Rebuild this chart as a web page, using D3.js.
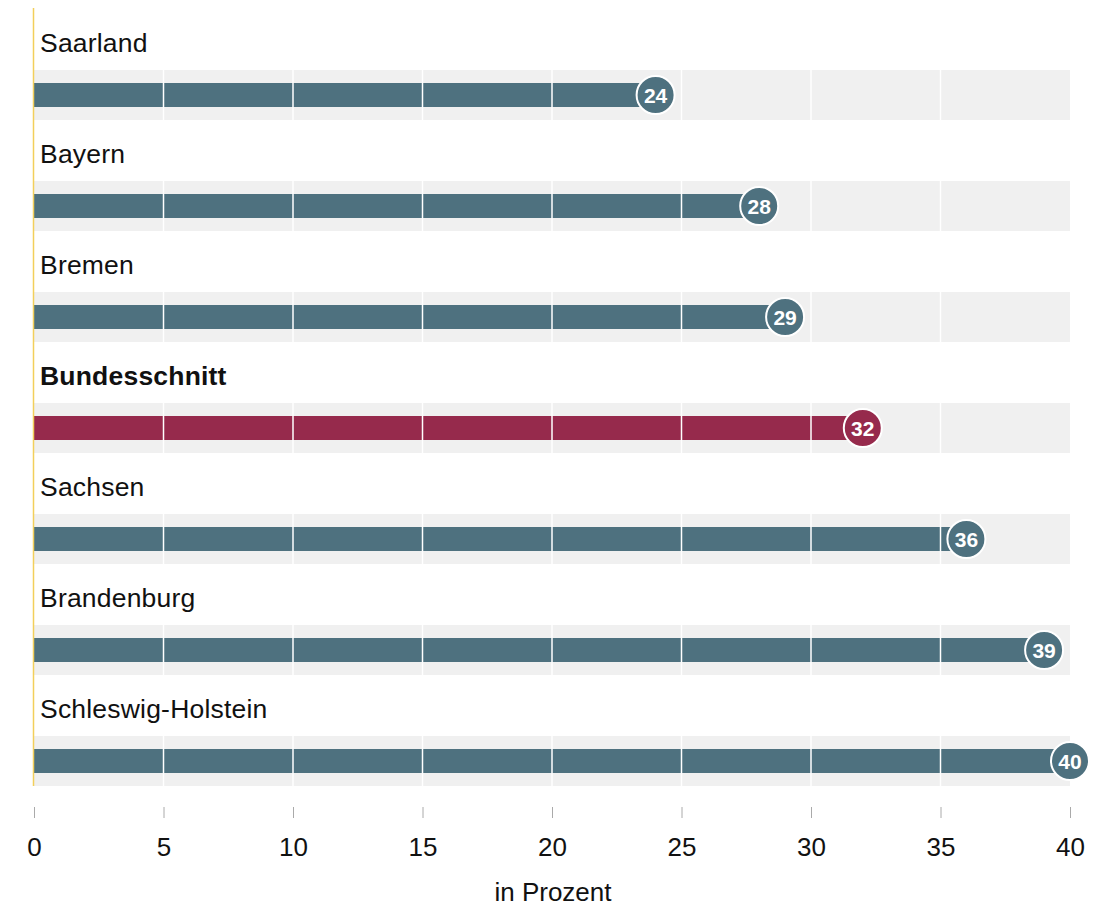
<!DOCTYPE html>
<html><head><meta charset="utf-8">
<script src="https://cdn.jsdelivr.net/npm/d3@7"></script>
<style>
body{margin:0;background:#fff;}
svg text{font-family:"Liberation Sans",Arial,Helvetica,sans-serif;}
</style></head>
<body><svg id="chart" width="1102" height="906"></svg>
<script>
const categories = ["Saarland","Bayern","Bremen","Bundesschnitt","Sachsen","Brandenburg","Schleswig-Holstein"];
const values = [24,28,29,32,36,39,40];
const highlight = ["Bundesschnitt"];
const tickValues = [0,5,10,15,20,25,30,35,40];
const axisTitle = "in Prozent";

const svg = d3.select("#chart");
const x = d3.scaleLinear().domain([0,40]).range([34,1070]);
const y = d3.scaleBand().domain(categories).range([8,785]).paddingInner(0).paddingOuter(0);
const step = y.step();
const bandH = 50, barH = 24;

const rows = svg.selectAll("g.row").data(categories).enter().append("g")
  .attr("class","row").attr("transform",d=>`translate(0,${y(d)})`);

rows.append("rect").attr("x",x(0)).attr("y",step-49).attr("width",x(40)-x(0)).attr("height",bandH).attr("fill","#f0f0f0");

rows.append("rect").attr("x",x(0)).attr("y",step-49+(bandH-barH)/2)
  .attr("width",(d,i)=>x(values[i])-x(0)).attr("height",barH)
  .attr("fill",d=>highlight.includes(d)?"#962a4c":"#4e717f");

rows.selectAll("line.grid").data(tickValues.filter(t=>t>0&&t<40)).enter().append("line")
  .attr("x1",t=>x(t)).attr("x2",t=>x(t)).attr("y1",step-49).attr("y2",step-49+bandH)
  .attr("stroke","#fff").attr("stroke-width",1.5);

rows.append("text").attr("x",40).attr("y",step-67).attr("font-size",26.5)
  .attr("textLength",null)
  .attr("font-weight",d=>highlight.includes(d)?"bold":"normal").attr("fill","#111").text(d=>d)
  .style("letter-spacing","0.2px");

rows.append("circle").attr("cx",(d,i)=>x(values[i])).attr("cy",step-49+bandH/2).attr("r",19)
  .attr("fill",d=>highlight.includes(d)?"#962a4c":"#4e717f").attr("stroke","#fff").attr("stroke-width",2);
rows.append("text").attr("x",(d,i)=>x(values[i])).attr("y",step-49+bandH/2+7.5).attr("text-anchor","middle")
  .attr("font-size",21).attr("font-weight","bold").attr("fill","#fff").text((d,i)=>values[i]);

svg.append("line").attr("x1",33.5).attr("x2",33.5).attr("y1",8).attr("y2",786).attr("stroke","#f2cf5b").attr("stroke-width",1.5);

const axis = d3.axisBottom(x).tickValues(tickValues).tickSize(11).tickPadding(20);
const ag = svg.append("g").attr("transform","translate(0,807)").call(axis);
ag.select(".domain").remove();
ag.selectAll(".tick line").attr("stroke","#aaa");
ag.selectAll(".tick text").attr("font-size",26).attr("fill","#111").attr("font-family","'Liberation Sans',Arial,sans-serif");

svg.append("text").attr("x",553).attr("y",901).attr("text-anchor","middle").attr("font-size",26).attr("fill","#111").text(axisTitle);
</script></body></html>
